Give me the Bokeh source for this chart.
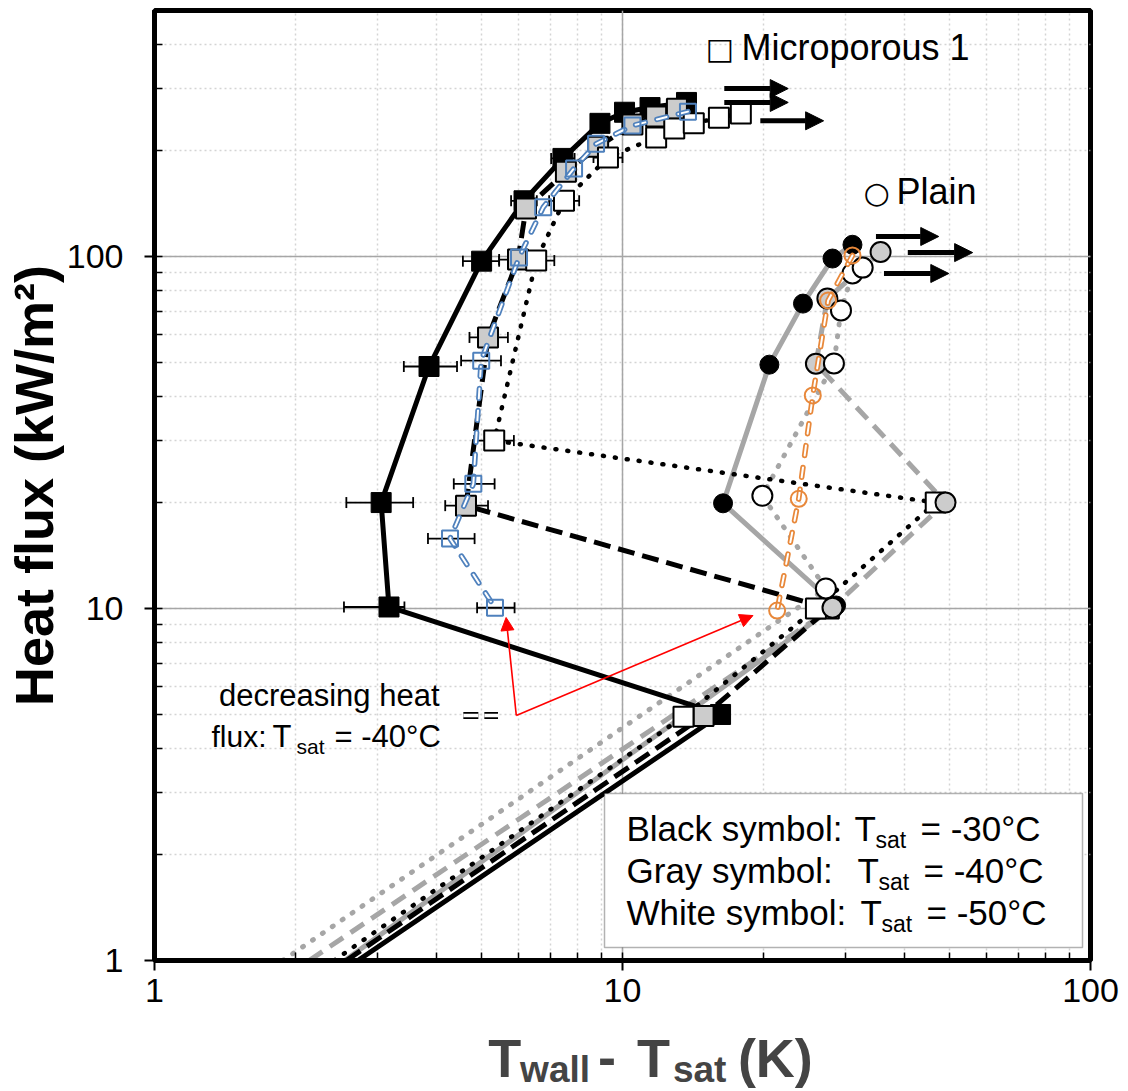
import math
from bokeh.plotting import figure
from bokeh.layouts import column
from bokeh.models import (Label, BoxAnnotation, Arrow, NormalHead, Range1d,
                          CustomJSTickFormatter)
from bokeh.embed import file_html
from bokeh.resources import INLINE

# ---------------- data ----------------
# Microporous 1, Tsat=-30C : black squares, solid black line
mp30_dT = [16.2, 3.17, 3.05, 3.86, 5.0, 6.16, 7.46, 8.95, 10.1, 11.45, 13.7]
mp30_q = [5.0, 10.1, 20.0, 48.7, 97.0, 144, 190, 239, 257, 265, 274]
mp30_nc = [2.72, 1.0]          # natural-convection line end (dT, q)

# Microporous 1, Tsat=-40C : gray squares, black dashed line
mp40_dT = [14.9, 27.6, 4.63, 5.16, 5.98, 6.22, 7.57, 8.87, 10.5, 11.8, 13.07]
mp40_q = [4.95, 10.0, 19.6, 58.9, 98.0, 137, 174, 205, 237, 250, 263]
mp40_nc = [2.57, 1.0]

# Microporous 1, Tsat=-50C : white squares, black dotted line
mp50_dT = [13.5, 25.9, 46.7, 5.32, 6.54, 7.5, 9.31, 11.8, 12.9, 14.2, 16.07, 17.9]
mp50_q = [4.93, 10.0, 20.0, 30.0, 97.4, 144, 191, 218, 231, 239, 248, 255]
mp50_nc = [2.42, 1.0]

# Plain, Tsat=-30C : black circles, solid gray line
pl30_dT = [28.6, 16.4, 20.6, 24.3, 28.1, 31.0]
pl30_q = [10.2, 19.9, 49.3, 73.5, 98.7, 108]
pl30_nc = [2.55, 1.0]

# Plain, Tsat=-40C : gray circles, dashed gray line
pl40_dT = [28.1, 49.0, 25.9, 27.4, 35.6]
pl40_q = [10.05, 20.0, 49.6, 76.0, 103]
pl40_nc = [2.14, 1.0]

# Plain, Tsat=-50C : white circles, dotted gray line
pl50_dT = [27.2, 19.9, 28.3, 29.3, 31.0, 32.6]
pl50_q = [11.4, 20.9, 49.7, 70.3, 89.5, 93.0]
pl50_nc = [1.88, 1.0]

# Decreasing heat flux, Tsat=-40C
dec_pl_dT = [31.0, 27.5, 25.5, 23.8, 21.4]
dec_pl_q = [100.7, 75.0, 40.3, 20.5, 9.87]
dec_mp_dT = [13.8, 10.5, 8.78, 7.88, 6.77, 6.01, 4.99, 4.80, 4.28, 5.34]
dec_mp_q = [258, 235.5, 209, 178, 138, 99.4, 50.6, 22.6, 15.8, 10.05]

# Horizontal error bars (q, dT low, dT high)
eb_q = [10.1, 20.0, 48.7, 97.0, 58.9, 50.6, 30.0, 22.6, 19.6, 15.8, 10.05,
        97.4, 144, 191, 144, 190, 98.0]
eb_lo = [2.54, 2.57, 3.41, 4.56, 4.71, 4.52, 4.82, 4.36, 4.18, 3.84, 4.89,
         5.98, 6.97, 8.67, 5.78, 7.04, 5.45]
eb_hi = [3.42, 3.57, 4.43, 5.45, 5.69, 5.5, 5.86, 5.33, 5.16, 4.83, 5.88,
         7.15, 8.08, 10.0, 6.56, 7.9, 6.56]

# "beyond" arrows (start dT, end dT, q)
arr_x0 = [16.5, 16.5, 19.7, 34.8, 40.7, 36.2]
arr_x1 = [22.6, 22.6, 26.9, 47.4, 56.0, 49.8]
arr_q = [300, 274, 243, 114, 102.6, 89.5]

# red pointer arrows (start dT, start q, end dT, end q)
red_x0 = [5.93, 5.93]
red_y0 = [4.97, 4.97]
red_x1 = [5.64, 19.0]
red_y1 = [9.43, 9.55]
# small key of the hollow dashed line
key_dT = [4.57, 5.42]
key_q = [4.97, 4.97]

# ---------------- layout constants (page pixels) ----------------
FL, FR, FB = 153, 1090, 960     # frame left / right / bottom in page pixels
PH = 1025                       # height of main figure
FONT = "Liberation Sans"

p = figure(width=1128, height=PH, x_axis_type="log", y_axis_type="log",
           x_range=Range1d(1, 100), y_range=Range1d(1, 500), title=None,
           output_backend="svg", toolbar_location=None,
           min_border_left=FL, min_border_right=1128 - FR,
           min_border_top=10, min_border_bottom=PH - FB)
p.background_fill_color = "white"
p.border_fill_color = "white"
p.outline_line_color = "black"
p.outline_line_width = 5

fmt = CustomJSTickFormatter(code="return String(Math.round(tick));")
for ax in (p.xaxis[0], p.yaxis[0]):
    ax.formatter = fmt
    ax.axis_line_color = "black"
    ax.axis_line_width = 5
    ax.major_tick_out = 10
    ax.major_tick_in = 0
    ax.minor_tick_in = 8
    ax.minor_tick_out = 0
    ax.major_tick_line_width = 2
    ax.minor_tick_line_width = 1.5
    ax.major_label_text_font = FONT
    ax.major_label_text_font_size = "34px"
    ax.major_label_text_color = "black"
p.xaxis.major_label_standoff = 8
p.yaxis.major_label_standoff = 21
p.yaxis.axis_label = "Heat flux (kW/m²)"
p.yaxis.axis_label_text_font = FONT
p.yaxis.axis_label_text_font_size = "54px"
p.yaxis.axis_label_text_font_style = "bold"
p.yaxis.axis_label_text_color = "black"
p.yaxis.axis_label_standoff = 0

for g in (p.xgrid[0], p.ygrid[0]):
    g.grid_line_color = "#a6a6a6"
    g.grid_line_width = 1.5
    g.minor_grid_line_color = "#d4d4d4"
    g.minor_grid_line_width = 1.5
    g.minor_grid_line_dash = "2 3"

BLACK, GRAY, LGRAY = "black", "#a6a6a6", "#cccccc"
BLUE, ORANGE = "#4f81bd", "#e8883a"

def nc(dT, q, end):
    return [end[0]] + dT, [end[1]] + q

# lines
x, y = nc(pl50_dT, pl50_q, pl50_nc)
p.line(x, y, line_color=GRAY, line_width=5, line_dash="1 11", line_cap="round")
x, y = nc(pl40_dT, pl40_q, pl40_nc)
p.line(x, y, line_color=GRAY, line_width=5, line_dash="16 9")
x, y = nc(pl30_dT, pl30_q, pl30_nc)
p.line(x, y, line_color=GRAY, line_width=5)
x, y = nc(mp50_dT, mp50_q, mp50_nc)
p.line(x, y, line_color=BLACK, line_width=4.5, line_dash="1 11", line_cap="round")
x, y = nc(mp40_dT, mp40_q, mp40_nc)
p.line(x, y, line_color=BLACK, line_width=5, line_dash="17 8")
x, y = nc(mp30_dT, mp30_q, mp30_nc)
p.line(x, y, line_color=BLACK, line_width=5)

# error bars
p.segment(eb_lo, eb_q, eb_hi, eb_q, line_color=BLACK, line_width=1.8)
p.scatter(eb_lo + eb_hi, eb_q + eb_q, marker="dash", angle=math.pi / 2, size=11,
          line_color=BLACK, line_width=1.8)

# markers: microporous squares
p.scatter(mp30_dT, mp30_q, marker="square", size=20, fill_color=BLACK, line_color=BLACK)
p.scatter(mp40_dT, mp40_q, marker="square", size=20, fill_color=LGRAY, line_color=BLACK, line_width=2)
p.scatter(mp50_dT, mp50_q, marker="square", size=20, fill_color="white", line_color=BLACK, line_width=2)
# markers: plain circles
p.scatter(pl30_dT, pl30_q, marker="circle", size=19, fill_color=BLACK, line_color=BLACK)
p.scatter(pl40_dT, pl40_q, marker="circle", size=20, fill_color=LGRAY, line_color=BLACK, line_width=2)
p.scatter(pl50_dT, pl50_q, marker="circle", size=20, fill_color="white", line_color=BLACK, line_width=2)

# decreasing heat flux lines (hollow dashes)
for xs, ys, c in ((dec_pl_dT, dec_pl_q, ORANGE), (dec_mp_dT, dec_mp_q, BLUE)):
    p.line(xs, ys, line_color=c, line_width=5.5, line_dash="10 12", line_cap="round")
    p.line(xs, ys, line_color="white", line_width=2, line_dash="10 12", line_cap="round")
p.scatter(dec_pl_dT, dec_pl_q, marker="circle", size=16, fill_color=None, line_color=ORANGE, line_width=2)
p.scatter(dec_mp_dT, dec_mp_q, marker="square", size=16, fill_color=None, line_color=BLUE, line_width=2)

# key of hollow dash
p.line(key_dT, key_q, line_color=BLACK, line_width=7, line_dash="15 6")
p.line(key_dT, key_q, line_color="white", line_width=3.5, line_dash="15 6")

# arrows
for x0, x1, q in zip(arr_x0, arr_x1, arr_q):
    p.add_layout(Arrow(x_start=x0, y_start=q, x_end=x1, y_end=q, line_color=BLACK,
                       line_width=5, end=NormalHead(size=18, fill_color=BLACK,
                                                    line_color=BLACK, line_width=1)))
for x0, y0, x1, y1 in zip(red_x0, red_y0, red_x1, red_y1):
    p.add_layout(Arrow(x_start=x0, y_start=y0, x_end=x1, y_end=y1, line_color="red",
                       line_width=1.6, end=NormalHead(size=13, fill_color="red",
                                                      line_color="red", line_width=1)))

# legend box
p.add_layout(BoxAnnotation(left=603 - FL, right=1081 - FL, top=FB - 793, bottom=FB - 947,
                           left_units="screen", right_units="screen",
                           top_units="screen", bottom_units="screen",
                           fill_color="white", fill_alpha=1, line_color=BLACK,
                           line_width=1.5, level="annotation"))

def lab(text, px, py, size, bold=False, align="left", angle=0.0,
        font=FONT, color="black"):
    p.add_layout(Label(x=px - FL, y=FB - py, x_units="screen", y_units="screen",
                       text=text, text_font=font, text_font_size=f"{size}px",
                       text_font_style="bold" if bold else "normal",
                       text_align=align, text_baseline="middle", angle=angle,
                       text_color=color))

rows = [("Black symbol:", "-30", 828, 853), ("Gray symbol:", "-40", 870, 856),
        ("White symbol:", "-50", 912, 859)]
for name, t, yy, tx in rows:
    lab(name, 625, yy, 35)
    lab("T", tx, yy, 35)
    lab("sat", tx + 21, yy + 11, 23)
    lab(f"= {t}°C", tx + 66, yy, 35)

lab("□", 704, 48, 30, font="DejaVu Sans")
lab("Microporous 1", 740, 47, 36)
lab("○", 862, 192, 30, font="DejaVu Sans")
lab("Plain", 895, 191, 36)

lab("decreasing heat", 438, 695, 31, align="right")
lab("flux:", 210, 736, 30)
lab("T", 271, 736, 31)
lab("sat", 295, 746, 21)
lab("= -40°C", 333, 736, 31)

# ---------------- x title strip (frame is aligned with the main frame) ----------------
pb = figure(width=1128, height=1091 - PH, x_range=Range1d(FL, FR),
            y_range=Range1d(1091, PH), title=None,
            output_backend="svg", toolbar_location=None, min_border=0,
            x_axis_location=None, y_axis_location=None, outline_line_color=None)
pb.grid.visible = False
for text, px, py, size in (("T", 487, 1057, 54), ("wall", 519, 1069, 37),
                           ("-", 597, 1057, 54), ("T", 636, 1057, 54),
                           ("sat", 672, 1069, 37), ("(K)", 737, 1057, 54)):
    pb.add_layout(Label(x=px, y=py, text=text, text_font=FONT,
                        text_font_size=f"{size}px", text_font_style="bold",
                        text_align="left", text_baseline="middle"))

layout = column(p, pb)
open("out.html", "w").write(file_html(layout, INLINE))
